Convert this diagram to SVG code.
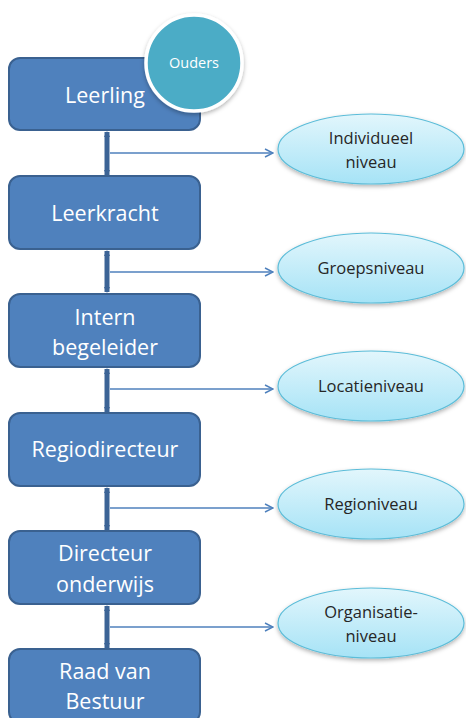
<svg xmlns="http://www.w3.org/2000/svg" width="466" height="718" viewBox="0 0 466 718">
<defs>
<linearGradient id="eg" x1="0" y1="0" x2="0" y2="1">
<stop offset="0" stop-color="#E2F6FC"/>
<stop offset="1" stop-color="#A6E3F6"/>
</linearGradient>
<filter id="sh" x="-20%" y="-20%" width="140%" height="150%">
<feDropShadow dx="0" dy="2" stdDeviation="2" flood-color="#000" flood-opacity="0.3"/>
</filter>
<marker id="vh" viewBox="0 0 6 6" refX="5" refY="3" markerWidth="6" markerHeight="6" markerUnits="userSpaceOnUse" orient="auto-start-reverse">
<path d="M0,0 L6,3 L0,6 z" fill="#3C6496"/>
</marker>
<marker id="oh" viewBox="0 0 10 10" refX="9" refY="5" markerWidth="10" markerHeight="10" markerUnits="userSpaceOnUse" orient="auto">
<path d="M1,1 L9,5 L1,9" fill="none" stroke="#4F81BD" stroke-width="1.5"/>
</marker>
</defs>
<style>
.box{fill:#4F81BD;stroke:#3A6190;stroke-width:2}
.bt{font-family:"Open Sans","Liberation Sans",sans-serif;font-size:21.5px;fill:#fff;text-anchor:middle}
.el{fill:url(#eg);stroke:#5CBDD9;stroke-width:1.2;filter:url(#sh)}
.et{font-family:"Open Sans","Liberation Sans",sans-serif;font-size:16.5px;fill:#262626;text-anchor:middle}
.v{stroke:#3C6496;stroke-width:5;fill:none;marker-start:url(#vh);marker-end:url(#vh)}
.h{stroke:#4F81BD;stroke-width:1.3;fill:none;marker-end:url(#oh)}
</style>
<rect width="466" height="718" fill="#fff"/>
<g id="connectors">
<line class="v" x1="107" y1="132" x2="107" y2="175"/>
<line class="v" x1="107" y1="251" x2="107" y2="292"/>
<line class="v" x1="107" y1="369" x2="107" y2="412"/>
<line class="v" x1="107" y1="488" x2="107" y2="530"/>
<line class="v" x1="107" y1="606" x2="107" y2="648"/>
<line class="h" x1="110" y1="153" x2="273" y2="153"/>
<line class="h" x1="110" y1="272" x2="273" y2="272"/>
<line class="h" x1="110" y1="389" x2="273" y2="389"/>
<line class="h" x1="110" y1="508" x2="273" y2="508"/>
<line class="h" x1="110" y1="627" x2="273" y2="627"/>
</g>
<g id="leerling">
<rect class="box" x="9" y="58" width="191" height="72" rx="11"/>
<text class="bt" x="105" y="103">Leerling</text>
</g>
<g id="ouders">
<circle cx="194" cy="63" r="48" fill="#4BACC6" stroke="#fff" stroke-width="3.5" filter="url(#sh)"/>
<text x="194" y="68" font-family="Open Sans, Liberation Sans, sans-serif" font-size="14.5px" fill="#fff" text-anchor="middle">Ouders</text>
</g>
<g id="leerkracht">
<rect class="box" x="9" y="176" width="191" height="73" rx="11"/>
<text class="bt" x="105" y="221">Leerkracht</text>
</g>
<g id="intern">
<rect class="box" x="9" y="294" width="191" height="73" rx="11"/>
<text class="bt" x="105" y="325">Intern</text>
<text class="bt" x="105" y="355">begeleider</text>
</g>
<g id="regiodirecteur">
<rect class="box" x="9" y="413" width="191" height="73" rx="11"/>
<text class="bt" x="105" y="457">Regiodirecteur</text>
</g>
<g id="directeur">
<rect class="box" x="9" y="531" width="191" height="73" rx="11"/>
<text class="bt" x="105" y="561">Directeur</text>
<text class="bt" x="105" y="592">onderwijs</text>
</g>
<g id="raad">
<rect class="box" x="9" y="649" width="191" height="74" rx="11"/>
<text class="bt" x="105" y="679">Raad van</text>
<text class="bt" x="105" y="709">Bestuur</text>
</g>
<g id="individueel">
<ellipse class="el" cx="371" cy="149" rx="93" ry="35"/>
<text class="et" x="371" y="144">Individueel</text>
<text class="et" x="371" y="168">niveau</text>
</g>
<g id="groep">
<ellipse class="el" cx="371" cy="268" rx="93" ry="35"/>
<text class="et" x="371" y="274">Groepsniveau</text>
</g>
<g id="locatie">
<ellipse class="el" cx="371" cy="386" rx="93" ry="35"/>
<text class="et" x="371" y="392">Locatieniveau</text>
</g>
<g id="regio">
<ellipse class="el" cx="371" cy="504" rx="93" ry="35"/>
<text class="et" x="371" y="510">Regioniveau</text>
</g>
<g id="organisatie">
<ellipse class="el" cx="371" cy="623" rx="93" ry="35"/>
<text class="et" x="371" y="618">Organisatie-</text>
<text class="et" x="371" y="642">niveau</text>
</g>
</svg>
